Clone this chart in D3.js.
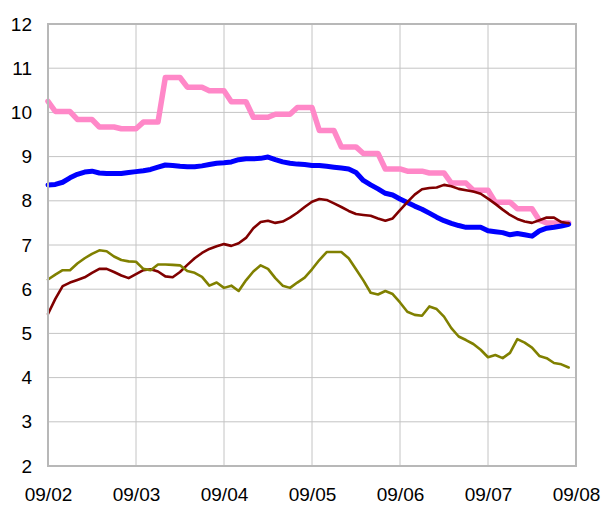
<!DOCTYPE html>
<html><head><meta charset="utf-8">
<script src="https://cdn.jsdelivr.net/npm/d3@7/dist/d3.min.js"></script>
<style>body{margin:0;background:#fff}svg{display:block}text{font-family:"Liberation Sans",Arial,sans-serif;fill:#000}</style>
</head><body><svg id="c" width="606" height="509"></svg>
<script>
// x positions: sample index / 12 = months since 09/02
const monthLabels = ["09/02","09/03","09/04","09/05","09/06","09/07","09/08"];
const yTicks = [2,3,4,5,6,7,8,9,10,11,12];
const samplesPerMonth = 12;

const pink = [10.25,10.02,10.02,10.02,9.84,9.84,9.84,9.67,9.67,9.67,9.63,9.63,9.63,9.78,9.78,9.78,10.79,10.79,10.79,10.57,10.57,10.57,10.49,10.49,10.49,10.24,10.24,10.24,9.89,9.89,9.89,9.96,9.96,9.96,10.11,10.11,10.11,9.59,9.59,9.59,9.22,9.22,9.22,9.07,9.07,9.07,8.72,8.72,8.72,8.67,8.67,8.67,8.63,8.63,8.63,8.40,8.40,8.40,8.24,8.24,8.24,7.97,7.97,7.97,7.82,7.82,7.82,7.56,7.50,7.50,7.50,7.50];
const blue = [8.36,8.37,8.42,8.52,8.60,8.65,8.67,8.63,8.62,8.62,8.62,8.64,8.66,8.68,8.71,8.76,8.81,8.80,8.78,8.77,8.77,8.79,8.82,8.85,8.86,8.88,8.93,8.95,8.95,8.96,8.99,8.93,8.88,8.85,8.83,8.82,8.80,8.80,8.78,8.76,8.74,8.72,8.64,8.46,8.36,8.27,8.17,8.13,8.04,7.96,7.88,7.81,7.72,7.63,7.55,7.49,7.44,7.40,7.40,7.40,7.32,7.30,7.28,7.23,7.26,7.23,7.20,7.32,7.38,7.40,7.43,7.47];
const red = [5.44,5.78,6.07,6.15,6.21,6.27,6.37,6.46,6.46,6.39,6.31,6.25,6.34,6.43,6.45,6.40,6.29,6.27,6.39,6.55,6.70,6.82,6.91,6.97,7.02,6.98,7.04,7.16,7.38,7.52,7.55,7.50,7.53,7.62,7.73,7.86,7.98,8.04,8.02,7.94,7.86,7.77,7.70,7.68,7.66,7.60,7.55,7.60,7.79,7.97,8.14,8.26,8.29,8.30,8.36,8.33,8.27,8.24,8.21,8.16,8.05,7.93,7.80,7.68,7.59,7.53,7.50,7.56,7.62,7.62,7.52,7.49];
const olive = [6.22,6.33,6.43,6.43,6.58,6.70,6.80,6.88,6.86,6.74,6.66,6.63,6.62,6.46,6.43,6.56,6.56,6.55,6.54,6.41,6.37,6.28,6.08,6.15,6.03,6.08,5.96,6.20,6.40,6.54,6.46,6.25,6.08,6.03,6.15,6.26,6.45,6.66,6.84,6.84,6.84,6.70,6.45,6.20,5.92,5.88,5.96,5.89,5.70,5.49,5.42,5.40,5.61,5.55,5.38,5.12,4.93,4.85,4.76,4.63,4.46,4.51,4.44,4.56,4.87,4.79,4.68,4.49,4.44,4.33,4.30,4.23];

const series = [
  {values: pink,  color: "#ff88c8", width: 5.5},
  {values: blue,  color: "#0000ff", width: 5},
  {values: red,   color: "#800000", width: 2.6},
  {values: olive, color: "#808000", width: 2.6}
];

const svg = d3.select("#c");
const L = 48, R = 576, T = 24, B = 466;
const x = d3.scaleLinear().domain([0, monthLabels.length - 1]).range([L, R]);
const y = d3.scaleLinear().domain([2, 12]).range([B, T]);

// gridlines
const g = svg.append("g");
g.selectAll("line.h").data(yTicks).join("line")
  .attr("x1", L).attr("x2", R).attr("y1", d => y(d)).attr("y2", d => y(d))
  .attr("stroke", "#c4c4c4").attr("stroke-width", 1);
g.selectAll("line.v").data(d3.range(monthLabels.length)).join("line")
  .attr("y1", T).attr("y2", B).attr("x1", d => x(d)).attr("x2", d => x(d))
  .attr("stroke", "#c4c4c4").attr("stroke-width", 1);

// axes
const yAxis = d3.axisLeft(y).tickValues(yTicks).tickSize(0).tickPadding(16).tickFormat(d3.format("d"));
svg.append("g").attr("transform", `translate(${L},0)`).call(yAxis)
  .call(a => a.select(".domain").remove())
  .selectAll("text").style("font-size", "19px").style("font-family", '"Liberation Sans",Arial,sans-serif');
const xAxis = d3.axisBottom(x).tickValues(d3.range(monthLabels.length)).tickSize(0).tickPadding(22)
  .tickFormat(i => monthLabels[i]);
svg.append("g").attr("transform", `translate(0,${B})`).call(xAxis)
  .call(a => a.select(".domain").remove())
  .selectAll("text").style("font-size", "19px").style("font-family", '"Liberation Sans",Arial,sans-serif');

// lines
const line = d3.line().x((d, i) => x(i / samplesPerMonth)).y(d => y(d));
svg.append("g").selectAll("path").data(series).join("path")
  .attr("d", s => line(s.values))
  .attr("fill", "none").attr("stroke", s => s.color).attr("stroke-width", s => s.width)
  .attr("stroke-linejoin", "round").attr("stroke-linecap", "round");

// plot border
svg.append("rect").attr("x", L).attr("y", T).attr("width", R - L).attr("height", B - T)
  .attr("fill", "none").attr("stroke", "#b8b8b8").attr("stroke-width", 2);
</script></body></html>
